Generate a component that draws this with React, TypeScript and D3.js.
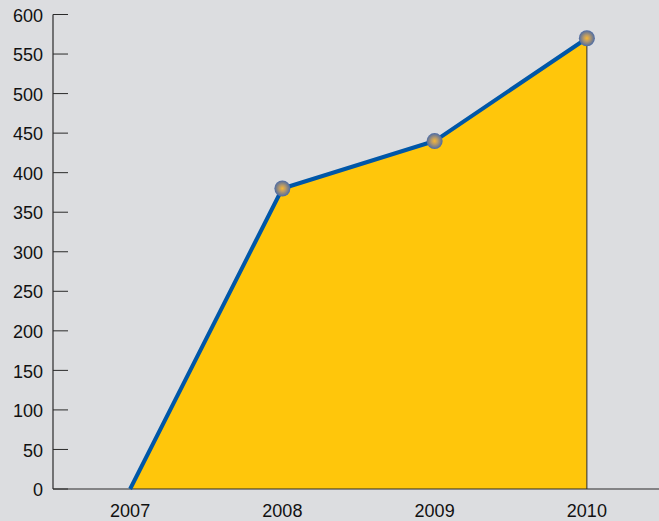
import React from "react";
import * as d3 from "d3";

const years = ["2007", "2008", "2009", "2010"];
const values = [0, 380, 440, 570];
const yTicks = [0, 50, 100, 150, 200, 250, 300, 350, 400, 450, 500, 550, 600];

const W = 659;
const H = 521;

export default function App() {
  const x = d3.scalePoint<string>().domain(years).range([54, 663]).padding(0.5);
  const y = d3.scaleLinear().domain([0, 600]).range([489, 14.5]);
  const pts = years.map((yr, i) => ({ yr, v: values[i] }));
  const area = d3
    .area<{ yr: string; v: number }>()
    .x((d) => x(d.yr)!)
    .y0(y(0))
    .y1((d) => y(d.v));
  const line = d3
    .line<{ yr: string; v: number }>()
    .x((d) => x(d.yr)!)
    .y((d) => y(d.v));
  const lastX = x(years[years.length - 1])!;
  const font = "'Liberation Sans', Arial, sans-serif";
  return (
    <svg
      width={W}
      height={H}
      style={{ position: "absolute", left: 0, top: 0, display: "block" }}
    >
      <defs>
        <radialGradient id="mk" cx="50%" cy="50%" r="50%">
          <stop offset="0%" stopColor="#f7b733" />
          <stop offset="40%" stopColor="#b89a68" />
          <stop offset="100%" stopColor="#4a6aa6" />
        </radialGradient>
      </defs>
      <rect x={0} y={0} width={W} height={H} fill="#dcdde0" />
      <path d={area(pts)!} fill="#ffc60b" />
      <line x1={lastX} x2={lastX} y1={y(values[values.length - 1])} y2={y(0)} stroke="#2a2a2a" strokeWidth={1} />
      <line x1={53} x2={W} y1={y(0)} y2={y(0)} stroke="#2a2a2a" strokeWidth={1.2} />
      <line x1={53} x2={53} y1={y(600)} y2={y(0)} stroke="#2a2a2a" strokeWidth={1.2} />
      {yTicks.map((t) => (
        <g key={t}>
          <line x1={53} x2={68} y1={y(t)} y2={y(t)} stroke="#2a2a2a" strokeWidth={1} />
          <text
            x={43}
            y={y(t)}
            dy="0.4em"
            textAnchor="end"
            fontFamily={font}
            fontSize={18}
            fill="#111"
          >
            {t}
          </text>
        </g>
      ))}
      {years.map((yr) => (
        <text
          key={yr}
          x={x(yr)!}
          y={517}
          textAnchor="middle"
          fontFamily={font}
          fontSize={18}
          fill="#111"
        >
          {yr}
        </text>
      ))}
      <path d={line(pts)!} fill="none" stroke="#0057a8" strokeWidth={4} strokeLinejoin="round" />
      {pts.slice(1).map((d) => (
        <circle
          key={d.yr}
          cx={x(d.yr)!}
          cy={y(d.v)}
          r={8}
          fill="url(#mk)"
        />
      ))}
    </svg>
  );
}
